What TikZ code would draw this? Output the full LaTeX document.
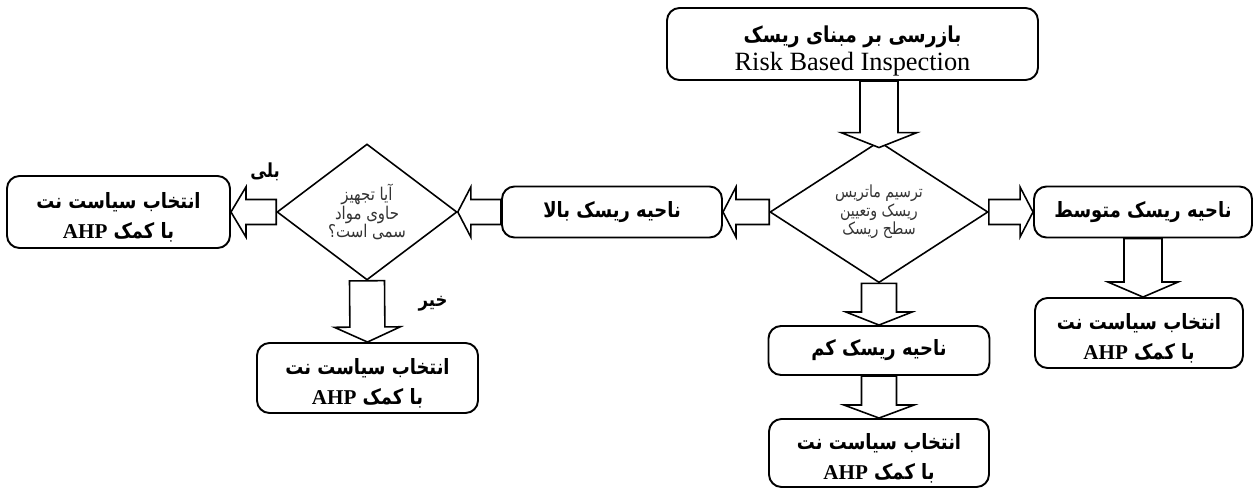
\documentclass[tikz,border=0pt]{standalone}
\usepackage{fontspec}
\setmainfont{Liberation Serif}
\newfontfamily\fafont[Script=Arabic,FakeStretch=0.85]{DejaVu Sans}
\TeXXeTstate=1
\usetikzlibrary{shapes.geometric,calc}

\newcommand{\fa}[1]{\beginR#1\endR}
\newcommand{\ahp}{\beginL{\rmfamily\fontsize{12}{17}\selectfont AHP}\endL}
\newcommand{\policy}{\fa{انتخاب سیاست نت}\rule{0pt}{15pt}\\\fa{با کمک \ahp}}

% hollow block arrow: from, to, shaft half width, head half width, head length
\newcommand{\blockarrow}[5]{%
  \coordinate (hb) at ($(#2)!#5!(#1)$);
  \filldraw[harrow] ($(#1)!#3!90:(#2)$) -- ($(hb)!#3!90:(#2)$) -- ($(hb)!#4!90:(#2)$) -- (#2)
    -- ($(hb)!#4!-90:(#2)$) -- ($(hb)!#3!-90:(#2)$) -- ($(#1)!#3!-90:(#2)$) -- cycle;
}

\begin{document}
\begin{tikzpicture}[
  box/.style={draw,line width=1.1pt,rounded corners=0.25cm,align=center,inner sep=0pt,
    font=\fafont\bfseries\fontsize{12}{17}\selectfont},
  decision/.style={draw,diamond,line width=0.9pt,inner sep=0pt,align=center,
    font=\fafont\fontsize{9.5}{10.5}\selectfont,text=black!80},
  harrow/.style={draw,fill=white,line width=0.9pt},
  answer/.style={font=\fafont\bfseries\fontsize{11}{13}\selectfont}]

\useasboundingbox (0,0) rectangle (25.08,9.8);

\node[box,minimum width=7.42cm,minimum height=1.44cm] (rbi) at (17.05,8.92)
  {\fontsize{12.5}{14}\selectfont\fa{بازرسی بر مبنای ریسک}\rule{0pt}{17pt}\\[-1pt]{\rmfamily\mdseries\fontsize{15}{17}\selectfont Risk Based Inspection}};

\node[decision,minimum width=4.36cm,minimum height=2.72cm] (matrix) at (17.58,5.56)
  {\fa{ترسیم ماتریس}\\\fa{ریسک وتعیین}\\\fa{سطح ریسک}};

%left branch
\node[box,minimum width=4.4cm,minimum height=1.02cm] (high) at (12.24,5.56) {\fa{ناحیه ریسک بالا}};
\node[decision,minimum width=3.6cm,minimum height=2.72cm,font=\fafont\fontsize{10}{10.5}\selectfont] (toxic) at (7.34,5.56)
  {\fa{آیا تجهیز}\\\fa{حاوی مواد}\\\fa{سمی است؟}};
\node[box,minimum width=4.46cm,minimum height=1.44cm] (yespolicy) at (2.37,5.56) {\policy};
\node[box,minimum width=4.42cm,minimum height=1.4cm] (nopolicy) at (7.35,2.24) {\policy};
\node[answer] (yes) at (5.3,6.36) {\fa{بلی}};
\node[answer] (no) at (8.66,3.72) {\fa{خیر}};

%low branch
\node[box,minimum width=4.42cm,minimum height=0.98cm] (low) at (17.58,2.79) {\fa{ناحیه ریسک کم}};
\node[box,minimum width=4.4cm,minimum height=1.36cm] (lowpolicy) at (17.58,0.74) {\policy};

%medium branch
\node[box,minimum width=4.36cm,minimum height=1.02cm] (mid) at (22.86,5.56) {\fa{ناحیه ریسک متوسط}};
\node[box,minimum width=4.16cm,minimum height=1.4cm] (midpolicy) at (22.78,3.14) {\policy};

\coordinate (rbiout) at (rbi.south -| matrix.north);
\coordinate (mtop) at ($(matrix.north)+(0,-0.14)$);
\coordinate (midin) at (mid.south |- midpolicy.north);

\blockarrow{rbiout}{mtop}{0.38cm}{0.76cm}{0.3cm}
\blockarrow{matrix.west}{high.east}{0.25cm}{0.5cm}{0.26cm}
\blockarrow{high.west}{toxic.east}{0.25cm}{0.5cm}{0.26cm}
\blockarrow{toxic.west}{yespolicy.east}{0.25cm}{0.5cm}{0.3cm}
\blockarrow{toxic.south}{nopolicy.north}{0.35cm}{0.66cm}{0.3cm}
\blockarrow{matrix.south}{low.north}{0.35cm}{0.66cm}{0.26cm}
\blockarrow{low.south}{lowpolicy.north}{0.35cm}{0.7cm}{0.26cm}
\blockarrow{matrix.east}{mid.west}{0.25cm}{0.5cm}{0.26cm}
\blockarrow{mid.south}{midin}{0.38cm}{0.7cm}{0.3cm}

\end{tikzpicture}
\end{document}
